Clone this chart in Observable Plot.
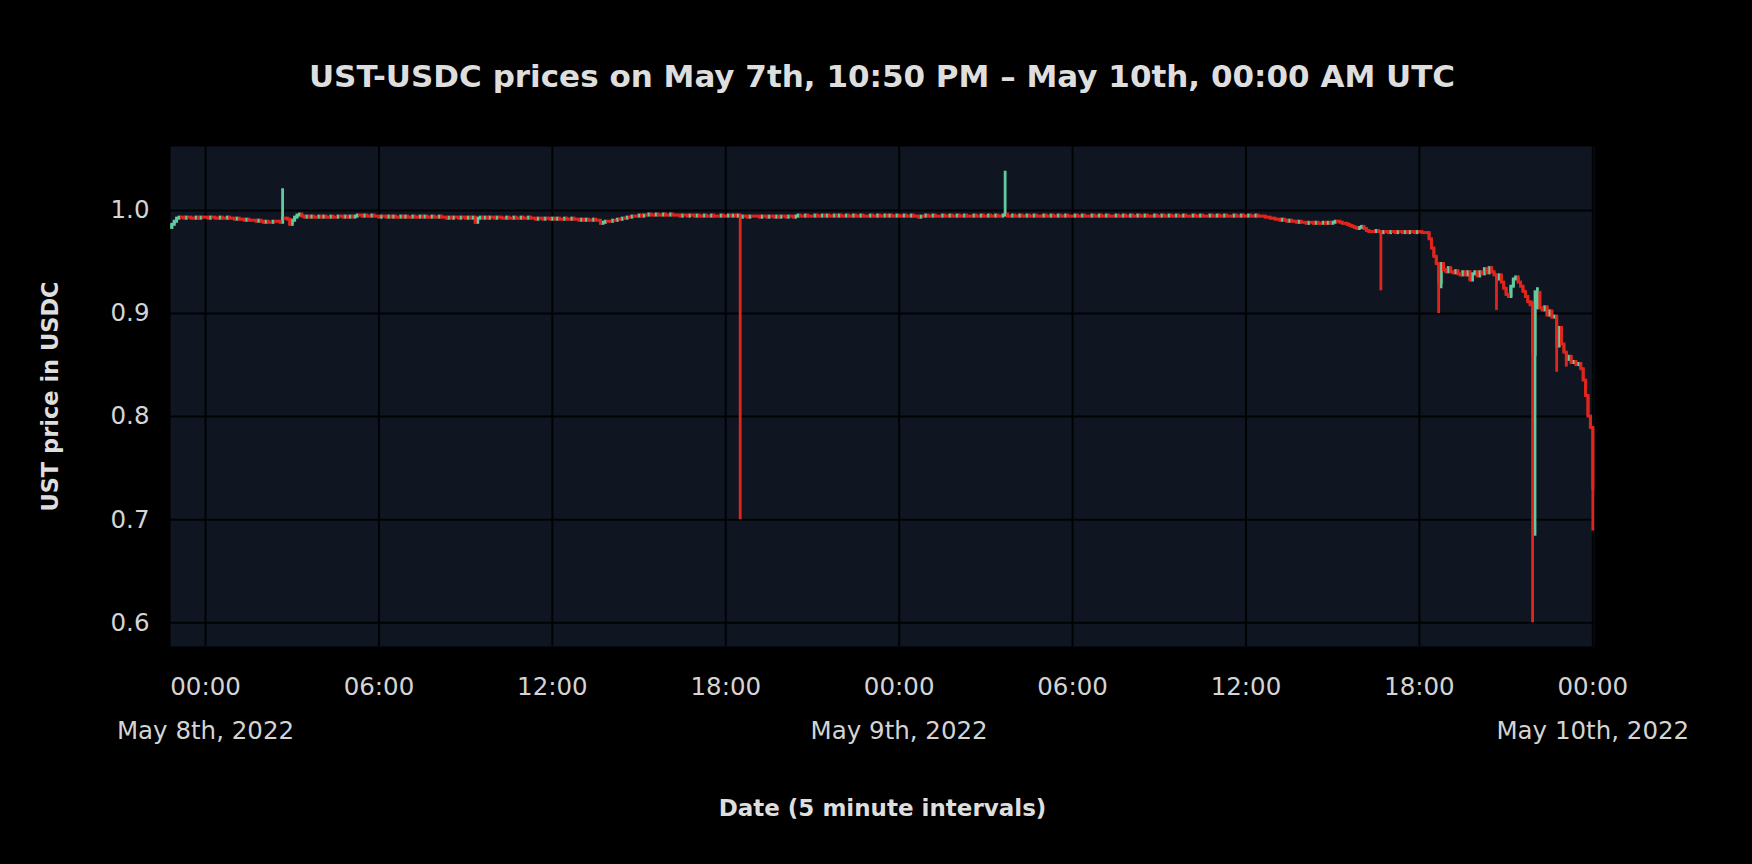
<!DOCTYPE html>
<html>
<head>
<meta charset="utf-8">
<script src="https://cdn.jsdelivr.net/npm/d3@7"></script>
<script src="https://cdn.jsdelivr.net/npm/@observablehq/plot@0.6"></script>
<style>
html, body { margin: 0; padding: 0; background: #000; overflow: hidden; width: 1752px; height: 864px; }
#title { box-sizing: border-box; height: 120px; padding-top: 58px; margin-left: 170px; width: 1424px;
  text-align: center; font-family: "DejaVu Sans"; font-weight: bold; font-size: 31px; line-height: 36px;
  color: #dedede; white-space: nowrap; }
#chart svg { display: block; }
</style>
</head>
<body>
<div id="title">UST-USDC prices on May 7th, 10:50 PM – May 10th, 00:00 AM UTC</div>
<div id="chart"></div>
<script>
// ---------------- data (5-minute candles, UTC) ----------------
const firstCandle = "2022-05-07T22:50:00Z";
const firstOpen = 0.983;

// closes, May 7 22:50 … 23:55
const closesMay7 = [0.986, 0.989,
  0.992,0.993,0.993,0.992,0.993,0.993,0.992,0.992,0.993,0.992,0.993,0.993];

// closes, May 8 (one row per hour, 12 candles each)
const closesMay8 = [
  0.993,0.992,0.993,0.993,0.992,0.992,0.993,0.992,0.992,0.993,0.992,0.992,
  0.991,0.992,0.991,0.991,0.990,0.991,0.990,0.990,0.990,0.989,0.990,0.989,
  0.988,0.989,0.988,0.988,0.989,0.989,0.989,0.988,0.992,0.992,0.991,0.986,
  0.990,0.993,0.995,0.996,0.994,0.993,0.994,0.993,0.994,0.993,0.993,0.994,
  0.993,0.994,0.993,0.993,0.994,0.993,0.993,0.994,0.994,0.993,0.994,0.993,
  0.994,0.993,0.994,0.995,0.995,0.994,0.995,0.994,0.994,0.995,0.994,0.994,
  0.993,0.994,0.994,0.993,0.994,0.993,0.994,0.993,0.993,0.994,0.993,0.994,
  0.993,0.993,0.994,0.993,0.993,0.994,0.993,0.994,0.993,0.993,0.994,0.993,
  0.993,0.994,0.993,0.993,0.992,0.993,0.992,0.993,0.993,0.992,0.993,0.993,
  0.992,0.993,0.992,0.993,0.988,0.992,0.993,0.992,0.993,0.992,0.993,0.993,
  0.992,0.993,0.993,0.992,0.992,0.993,0.992,0.992,0.993,0.992,0.992,0.993,
  0.992,0.992,0.993,0.992,0.992,0.991,0.992,0.992,0.991,0.992,0.992,0.991,
  0.992,0.991,0.992,0.991,0.991,0.992,0.991,0.991,0.992,0.991,0.991,0.990,
  0.991,0.990,0.991,0.990,0.990,0.991,0.990,0.990,0.987,0.988,0.989,0.989,
  0.989,0.990,0.990,0.991,0.991,0.992,0.992,0.993,0.993,0.994,0.994,0.994,
  0.995,0.994,0.995,0.995,0.996,0.995,0.995,0.996,0.995,0.995,0.996,0.995,
  0.995,0.996,0.995,0.995,0.995,0.994,0.995,0.995,0.994,0.995,0.995,0.994,
  0.995,0.994,0.994,0.995,0.994,0.994,0.995,0.994,0.994,0.994,0.995,0.994,
  0.994,0.995,0.994,0.995,0.994,0.995,0.993,0.994,0.994,0.993,0.994,0.994,
  0.994,0.994,0.993,0.994,0.994,0.993,0.994,0.994,0.993,0.994,0.993,0.994,
  0.994,0.993,0.994,0.994,0.993,0.994,0.995,0.994,0.994,0.995,0.994,0.994,
  0.994,0.995,0.994,0.994,0.995,0.994,0.995,0.994,0.994,0.995,0.994,0.995,
  0.994,0.994,0.995,0.994,0.994,0.995,0.994,0.994,0.995,0.994,0.994,0.994,
  0.995,0.994,0.994,0.995,0.994,0.994,0.995,0.994,0.995,0.994,0.994,0.995
];

// closes, May 9
const closesMay9 = [
  0.994,0.994,0.995,0.994,0.994,0.995,0.994,0.994,0.993,0.994,0.994,0.995,
  0.994,0.994,0.995,0.994,0.994,0.994,0.995,0.994,0.994,0.995,0.994,0.994,
  0.995,0.994,0.994,0.995,0.994,0.994,0.994,0.995,0.994,0.994,0.995,0.994,
  0.994,0.995,0.994,0.994,0.995,0.994,0.994,0.995,0.996,0.994,0.994,0.995,
  0.994,0.994,0.995,0.994,0.994,0.995,0.994,0.994,0.995,0.994,0.994,0.994,
  0.995,0.994,0.994,0.995,0.994,0.994,0.995,0.994,0.994,0.995,0.994,0.994,
  0.994,0.995,0.994,0.994,0.995,0.994,0.994,0.994,0.995,0.994,0.994,0.995,
  0.994,0.994,0.995,0.994,0.994,0.994,0.995,0.994,0.994,0.995,0.994,0.994,
  0.995,0.994,0.994,0.995,0.994,0.994,0.995,0.994,0.994,0.994,0.995,0.994,
  0.994,0.995,0.994,0.994,0.995,0.994,0.994,0.995,0.994,0.994,0.995,0.994,
  0.994,0.994,0.995,0.994,0.994,0.995,0.994,0.994,0.994,0.995,0.994,0.994,
  0.995,0.994,0.994,0.995,0.994,0.994,0.994,0.995,0.994,0.994,0.995,0.994,
  0.994,0.995,0.994,0.994,0.995,0.994,0.994,0.994,0.993,0.993,0.992,0.992,
  0.991,0.991,0.990,0.991,0.990,0.989,0.990,0.989,0.989,0.988,0.989,0.988,
  0.988,0.987,0.988,0.988,0.987,0.988,0.987,0.987,0.988,0.987,0.988,0.987,
  0.988,0.989,0.989,0.988,0.987,0.987,0.986,0.985,0.984,0.983,0.982,0.983,
  0.984,0.982,0.980,0.979,0.979,0.979,0.980,0.979,0.978,0.979,0.979,0.978,
  0.979,0.979,0.978,0.979,0.979,0.978,0.979,0.978,0.979,0.979,0.978,0.979,
  0.979,0.978,0.978,0.978,0.972,0.963,0.955,0.948,0.930,0.948,0.942,0.940,
  0.944,0.940,0.939,0.941,0.938,0.937,0.940,0.937,0.940,0.932,0.938,0.940,
  0.936,0.940,0.938,0.943,0.939,0.944,0.940,0.937,0.933,0.937,0.930,0.924,
  0.918,0.916,0.926,0.933,0.935,0.930,0.926,0.921,0.916,0.911,0.908,0.860,
  0.905,0.920,0.905,0.903,0.906,0.898,0.902,0.896,0.897,0.868,0.886,0.870,
  0.862,0.855,0.858,0.852,0.853,0.850,0.851,0.846,0.835,0.820,0.800,0.789
];

// close, May 10 00:00
const closesMay10 = [0.730];

// candles with visible wicks beyond their bodies
const wickTimes = ["2022-05-07T22:50Z","2022-05-08T02:40Z","2022-05-08T02:55Z","2022-05-08T09:20Z",
  "2022-05-08T13:40Z","2022-05-08T18:30Z","2022-05-09T03:40Z","2022-05-09T16:40Z","2022-05-09T18:40Z",
  "2022-05-09T18:45Z","2022-05-09T20:40Z","2022-05-09T21:55Z","2022-05-09T22:00Z","2022-05-09T22:05Z",
  "2022-05-09T22:45Z","2022-05-09T23:05Z","2022-05-10T00:00Z"];
const wickHighs = [null,1.021,null,null,null,null,1.038,null,null,null,null,0.912,0.922,0.925,null,null,null];
const wickLows  = [0.982,null,0.985,0.987,0.986,0.700,null,0.922,0.900,0.924,0.903,0.600,0.684,null,0.843,0.848,0.689];

// axes
const yTicks = [0.6, 0.7, 0.8, 0.9, 1.0];
const dateTickTimes = ["2022-05-08T00:00Z", "2022-05-09T00:00Z", "2022-05-10T00:00Z"];
const dateTickLabels = ["May 8th, 2022", "May 9th, 2022", "May 10th, 2022"];
const xDomain = ["2022-05-07T22:47:18Z", "2022-05-10T00:03:30Z"];
const yDomain = [0.577, 1.062];

// ---------------- build ----------------
const GREEN = "#63c9a0", RED = "#e2251c";
const closes = [...closesMay7, ...closesMay8, ...closesMay9, ...closesMay10];
const t0 = Date.parse(firstCandle);
const wickIndex = new Map(wickTimes.map((t, i) => [Date.parse(t), i]));
const candles = closes.map((c, i) => {
  const t = t0 + i * 300000;
  const o = i === 0 ? firstOpen : closes[i - 1];
  let hi = Math.max(o, c), lo = Math.min(o, c);
  const w = wickIndex.get(t);
  if (w !== undefined) {
    if (wickHighs[w] != null) hi = wickHighs[w];
    if (wickLows[w] != null) lo = wickLows[w];
  }
  return {date: new Date(t), open: o, close: c, high: hi, low: lo};
});
const up = candles.filter(d => d.close > d.open);
const down = candles.filter(d => d.close <= d.open);

const timeTicks = d3.utcHour.every(6).range(new Date("2022-05-08T00:00Z"), new Date("2022-05-10T00:01Z"));
const dateTicks = dateTickTimes.map(t => new Date(t));
const dateLabel = d => dateTickLabels[dateTickTimes.findIndex(t => Date.parse(t) === +d)];

const chart = Plot.plot({
  width: 1752,
  height: 744,
  marginTop: 26,
  marginBottom: 218,
  marginLeft: 170,
  marginRight: 158,
  style: {background: "#000", color: "#d4d4d4", fontFamily: "DejaVu Sans", fontSize: "24.5px"},
  x: {type: "utc", domain: xDomain.map(t => new Date(t))},
  y: {domain: yDomain},
  marks: [
    Plot.frame({fill: "#0f1622", stroke: "none"}),
    Plot.gridY(yTicks, {stroke: "#000", strokeOpacity: 0.9, strokeWidth: 2}),
    Plot.gridX(timeTicks, {stroke: "#000", strokeOpacity: 0.9, strokeWidth: 2}),
    Plot.ruleX(up, {x: "date", y1: "low", y2: "high", stroke: GREEN, strokeWidth: 2.8}),
    Plot.ruleX(down, {x: "date", y1: "low", y2: "high", stroke: RED, strokeWidth: 2.8}),
    Plot.ruleX(up, {x: "date", y1: "open", y2: "close", stroke: GREEN, strokeWidth: 3, strokeLinecap: "square"}),
    Plot.ruleX(down, {x: "date", y1: "open", y2: "close", stroke: RED, strokeWidth: 3, strokeLinecap: "square"}),
    Plot.axisY(yTicks, {tickFormat: d => d.toFixed(1), tickSize: 0, tickPadding: 21, label: null}),
    Plot.axisX(timeTicks, {tickFormat: d3.utcFormat("%H:%M"), tickSize: 0, tickPadding: 31, label: null}),
    Plot.axisX(dateTicks, {tickFormat: dateLabel, tickSize: 0, tickPadding: 75, label: null}),
    Plot.text(["UST price in USDC"], {text: d => d, frameAnchor: "left", dx: -120, rotate: -90,
      textAnchor: "middle", lineAnchor: "middle", fontWeight: "bold", fontSize: 22.5, fill: "#dedede"}),
    Plot.text(["Date (5 minute intervals)"], {text: d => d, frameAnchor: "bottom", dy: 162,
      textAnchor: "middle", lineAnchor: "middle", fontWeight: "bold", fontSize: 23, fill: "#dedede"})
  ]
});
document.getElementById("chart").appendChild(chart);
</script>
</body>
</html>
